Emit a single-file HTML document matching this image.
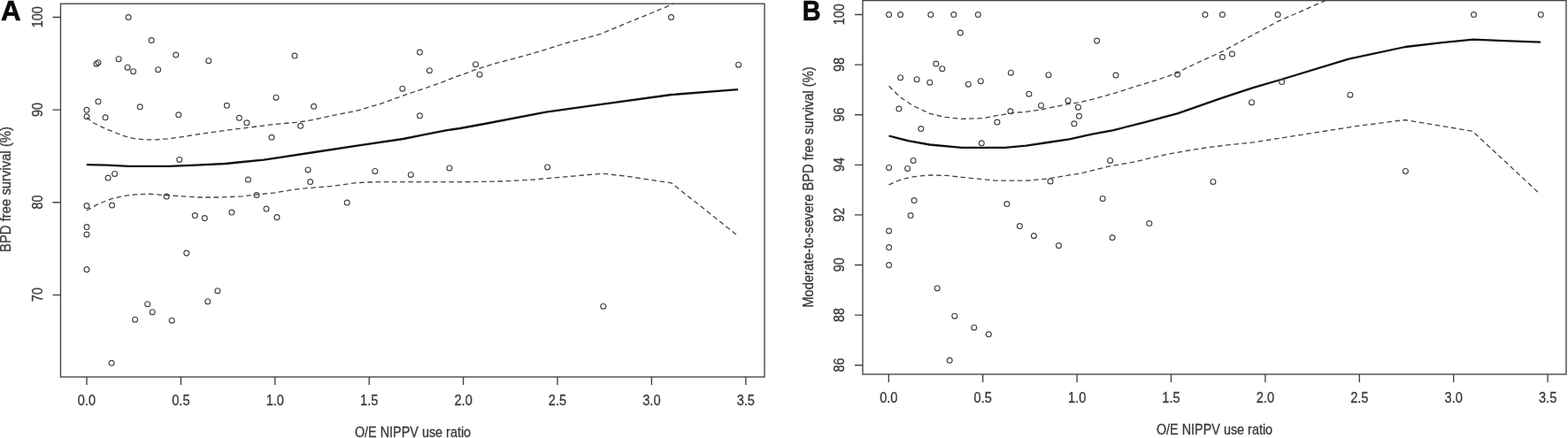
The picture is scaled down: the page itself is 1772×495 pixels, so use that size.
<!DOCTYPE html>
<html lang="en">
<head>
<meta charset="utf-8">
<title>BPD free survival vs O/E NIPPV use ratio</title>
<style>
html,body{margin:0;padding:0;background:#fff;}
body{width:1772px;height:495px;overflow:hidden;}
svg{display:block;font-family:"Liberation Sans",Arial,Helvetica,sans-serif;}
</style>
</head>
<body>
<svg width="1772" height="495" viewBox="0 0 1772 495">
<rect width="1772" height="495" fill="#fff"/>
<g id="panelA">
<rect x="68.5" y="4.2" width="795.5" height="421.8" fill="none" stroke="#424242" stroke-width="1.35"/>
<path d="M98.0 426.0v9.0M204.4 426.0v9.0M310.8 426.0v9.0M417.2 426.0v9.0M523.6 426.0v9.0M630.0 426.0v9.0M736.4 426.0v9.0M842.8 426.0v9.0M68.5 19.5h-9.0M68.5 124.1h-9.0M68.5 228.7h-9.0M68.5 333.3h-9.0" fill="none" stroke="#424242" stroke-width="1.35"/>
<g font-size="16" fill="#3a3a3a" stroke="#3a3a3a" stroke-width="0.3" text-anchor="middle">
<text transform="translate(98.0 458.3) scale(0.914 1)">0.0</text>
<text transform="translate(204.4 458.3) scale(0.914 1)">0.5</text>
<text transform="translate(310.8 458.3) scale(0.914 1)">1.0</text>
<text transform="translate(417.2 458.3) scale(0.914 1)">1.5</text>
<text transform="translate(523.6 458.3) scale(0.914 1)">2.0</text>
<text transform="translate(630.0 458.3) scale(0.914 1)">2.5</text>
<text transform="translate(736.4 458.3) scale(0.914 1)">3.0</text>
<text transform="translate(842.8 458.3) scale(0.914 1)">3.5</text>
<text transform="translate(47.5 19.3) rotate(-90) scale(0.9 1)">100</text>
<text transform="translate(47.5 123.9) rotate(-90) scale(0.9 1)">90</text>
<text transform="translate(47.5 228.5) rotate(-90) scale(0.9 1)">80</text>
<text transform="translate(47.5 333.1) rotate(-90) scale(0.9 1)">70</text>
<text transform="translate(466.5 493.8) scale(0.9 1)">O/E NIPPV use ratio</text>
<text transform="translate(12.0 214.0) rotate(-90) scale(0.929 1)">BPD free survival (%)</text>
</g>
<text transform="translate(0.9 23.3) scale(1 1)" font-size="31.3" font-weight="bold" fill="#0a0a0a" stroke="#0a0a0a" stroke-width="0.6">A</text>
<polyline points="97.9,186.2 121.2,186.7 145.5,187.9 191.5,187.9 220.6,186.6 254.5,185 274,183 298.2,180.6 310,178.8 358.5,171.5 407,164.2 455.5,157 479.7,152.1 503.9,147.3 520,145.0 550,139.5 617,126.7 681.5,117.6 758.8,107.0 834.1,101.2" fill="none" stroke="#111" stroke-width="2.3" stroke-linejoin="round"/>
<polyline points="97.9,132.6 104.2,138.2 116.4,144.2 128.5,149.1 140.6,153.9 152.7,156.8 164.8,157.8 177,157.8 189.1,156.8 201.2,155.4 225.5,151.5 249.7,148.1 264.2,146.2 286,143.5 310,140.5 334.2,138.3 346.4,136.8 358.5,134.4 382.7,129.1 401.6,125.5 416.2,121.4 432.3,116.6 448.5,110.6 464.6,104.9 480.8,99.6 497,93.9 513.1,87.5 529.3,81.8 539,78.1 560,71.6 585.5,65 609.7,58.2 633.9,50.5 640,48.5 660,43.5 678.8,38.3 712.7,24.2 737,14.5 761.2,4.2" fill="none" stroke="#424242" stroke-width="1.3" stroke-dasharray="5.6 3.6"/>
<polyline points="97.9,237.8 111.5,230.3 126,224.7 140.6,221.3 152.7,219.9 169.7,219.2 186.7,220.6 206,221.8 225.5,223 249.7,223 274,221.8 288.5,220.1 310.7,217.8 334.2,213.9 375.5,210.3 402.1,206.7 421.5,205.7 520,205.7 563.6,205 602.4,203 641.2,199.6 665.5,197.5 681.6,196.2 706.7,199 758.8,206.8 834.1,266.7" fill="none" stroke="#424242" stroke-width="1.3" stroke-dasharray="5.6 3.6"/>
<g fill="none" stroke="#424242" stroke-width="1.15">
<circle cx="145.1" cy="19.5" r="2.95"/>
<circle cx="171.2" cy="45.6" r="2.95"/>
<circle cx="198.7" cy="62.1" r="2.95"/>
<circle cx="333.0" cy="63.1" r="2.95"/>
<circle cx="109.0" cy="72.2" r="2.95"/>
<circle cx="111.0" cy="70.7" r="2.95"/>
<circle cx="134.1" cy="66.7" r="2.95"/>
<circle cx="144.1" cy="76.2" r="2.95"/>
<circle cx="150.6" cy="80.7" r="2.95"/>
<circle cx="178.7" cy="78.7" r="2.95"/>
<circle cx="235.8" cy="68.7" r="2.95"/>
<circle cx="111.0" cy="114.8" r="2.95"/>
<circle cx="158.2" cy="120.8" r="2.95"/>
<circle cx="98.0" cy="124.3" r="2.95"/>
<circle cx="98.0" cy="131.8" r="2.95"/>
<circle cx="119.1" cy="132.8" r="2.95"/>
<circle cx="201.8" cy="129.8" r="2.95"/>
<circle cx="256.4" cy="119.3" r="2.95"/>
<circle cx="312.0" cy="110.2" r="2.95"/>
<circle cx="354.6" cy="120.3" r="2.95"/>
<circle cx="270.4" cy="133.3" r="2.95"/>
<circle cx="278.9" cy="138.8" r="2.95"/>
<circle cx="339.6" cy="142.3" r="2.95"/>
<circle cx="307.0" cy="155.3" r="2.95"/>
<circle cx="202.8" cy="180.4" r="2.95"/>
<circle cx="122.1" cy="201" r="2.95"/>
<circle cx="129.6" cy="196.4" r="2.95"/>
<circle cx="280.4" cy="203" r="2.95"/>
<circle cx="348.1" cy="191.9" r="2.95"/>
<circle cx="350.6" cy="205.5" r="2.95"/>
<circle cx="423.8" cy="193.4" r="2.95"/>
<circle cx="188.2" cy="222" r="2.95"/>
<circle cx="290.0" cy="220.5" r="2.95"/>
<circle cx="98.0" cy="232.5" r="2.95"/>
<circle cx="126.6" cy="232" r="2.95"/>
<circle cx="392.2" cy="229" r="2.95"/>
<circle cx="220.3" cy="243.5" r="2.95"/>
<circle cx="231.3" cy="246.6" r="2.95"/>
<circle cx="261.9" cy="240" r="2.95"/>
<circle cx="301.0" cy="236" r="2.95"/>
<circle cx="313.0" cy="245.6" r="2.95"/>
<circle cx="98.0" cy="256.5" r="2.95"/>
<circle cx="98.0" cy="265" r="2.95"/>
<circle cx="98.0" cy="304.6" r="2.95"/>
<circle cx="210.8" cy="286.1" r="2.95"/>
<circle cx="245.9" cy="328.7" r="2.95"/>
<circle cx="234.8" cy="340.7" r="2.95"/>
<circle cx="166.7" cy="343.7" r="2.95"/>
<circle cx="172.2" cy="352.7" r="2.95"/>
<circle cx="152.6" cy="361.2" r="2.95"/>
<circle cx="194.2" cy="362.2" r="2.95"/>
<circle cx="126.1" cy="410.3" r="2.95"/>
<circle cx="474.4" cy="59.1" r="2.95"/>
<circle cx="485.4" cy="79.7" r="2.95"/>
<circle cx="454.8" cy="100.2" r="2.95"/>
<circle cx="537.5" cy="72.7" r="2.95"/>
<circle cx="542.0" cy="84.2" r="2.95"/>
<circle cx="474.4" cy="130.8" r="2.95"/>
<circle cx="758.5" cy="19.5" r="2.95"/>
<circle cx="834.6" cy="73.2" r="2.95"/>
<circle cx="464.3" cy="197.4" r="2.95"/>
<circle cx="507.9" cy="189.9" r="2.95"/>
<circle cx="618.7" cy="188.9" r="2.95"/>
<circle cx="681.8" cy="346.2" r="2.95"/>
</g>
</g>
<g id="panelB">
<rect x="974.95" y="0.6" width="795.0" height="422.4" fill="none" stroke="#424242" stroke-width="1.35"/>
<path d="M1004.3 423.0v9.0M1110.7 423.0v9.0M1217.1 423.0v9.0M1323.5 423.0v9.0M1429.9 423.0v9.0M1536.3 423.0v9.0M1642.7 423.0v9.0M1749.1 423.0v9.0M974.95 16.5h-9.0M974.95 73.1h-9.0M974.95 129.7h-9.0M974.95 186.3h-9.0M974.95 242.9h-9.0M974.95 299.5h-9.0M974.95 356.1h-9.0M974.95 412.7h-9.0" fill="none" stroke="#424242" stroke-width="1.35"/>
<g font-size="16" fill="#3a3a3a" stroke="#3a3a3a" stroke-width="0.3" text-anchor="middle">
<text transform="translate(1004.3 455.3) scale(0.914 1)">0.0</text>
<text transform="translate(1110.7 455.3) scale(0.914 1)">0.5</text>
<text transform="translate(1217.1 455.3) scale(0.914 1)">1.0</text>
<text transform="translate(1323.5 455.3) scale(0.914 1)">1.5</text>
<text transform="translate(1429.9 455.3) scale(0.914 1)">2.0</text>
<text transform="translate(1536.3 455.3) scale(0.914 1)">2.5</text>
<text transform="translate(1642.7 455.3) scale(0.914 1)">3.0</text>
<text transform="translate(1749.1 455.3) scale(0.914 1)">3.5</text>
<text transform="translate(954.0 16.3) rotate(-90) scale(0.9 1)">100</text>
<text transform="translate(954.0 72.9) rotate(-90) scale(0.9 1)">98</text>
<text transform="translate(954.0 129.5) rotate(-90) scale(0.9 1)">96</text>
<text transform="translate(954.0 186.1) rotate(-90) scale(0.9 1)">94</text>
<text transform="translate(954.0 242.7) rotate(-90) scale(0.9 1)">92</text>
<text transform="translate(954.0 299.3) rotate(-90) scale(0.9 1)">90</text>
<text transform="translate(954.0 355.9) rotate(-90) scale(0.9 1)">88</text>
<text transform="translate(954.0 412.5) rotate(-90) scale(0.9 1)">86</text>
<text transform="translate(1372.5 491.2) scale(0.9 1)">O/E NIPPV use ratio</text>
<text transform="translate(918.6 211.5) rotate(-90) scale(0.917 1)">Moderate-to-severe BPD free survival (%)</text>
</g>
<text transform="translate(906.8 23.0) scale(0.93 1)" font-size="31.0" font-weight="bold" fill="#0a0a0a" stroke="#0a0a0a" stroke-width="0.6">B</text>
<polyline points="1004.5,153.5 1026.4,159.1 1050.6,163.5 1087,166.8 1135.5,166.8 1159.7,164.7 1183.9,161 1208.2,157.4 1234.2,151.7 1258.5,147.1 1294.8,137.9 1331.2,128.2 1379.7,111.2 1416.1,99.1 1449.1,89.5 1524.2,66.7 1588.1,53.0 1629.7,48.2 1665,44.6 1700,46.2 1741,47.6" fill="none" stroke="#111" stroke-width="2.3" stroke-linejoin="round"/>
<polyline points="1004.5,97.3 1016.7,109.4 1031.2,119.1 1050.6,128.3 1067.6,132.4 1087,134.4 1111.2,133.6 1125.8,130.7 1145.2,127.6 1159.7,126.4 1176.7,123.9 1196.1,119.8 1208.2,117.4 1217.3,116.1 1234.2,112.4 1258.5,105.6 1282.7,97.9 1307,90.6 1331.2,82.1 1340,77.1 1381.2,58.2 1444.2,24.2 1497.6,0.8" fill="none" stroke="#424242" stroke-width="1.3" stroke-dasharray="5.6 3.6"/>
<polyline points="1004.5,208.8 1016.7,203.5 1031.2,199.8 1050.6,197.9 1070,198.4 1087,200.3 1111.2,202.7 1125.8,204.2 1159.7,204.2 1183.9,202 1208.2,197.9 1220,196.2 1253.9,187.9 1280.6,183.2 1317,174.8 1341.2,170.4 1365.5,166.5 1389.7,163.6 1416.1,160.9 1450,155.6 1532,142.7 1587.8,135.5 1664.1,148.3 1740.6,219.5" fill="none" stroke="#424242" stroke-width="1.3" stroke-dasharray="5.6 3.6"/>
<g fill="none" stroke="#424242" stroke-width="1.15">
<circle cx="1004.6" cy="16.5" r="2.95"/>
<circle cx="1017.6" cy="16.5" r="2.95"/>
<circle cx="1051.8" cy="16.5" r="2.95"/>
<circle cx="1077.8" cy="16.5" r="2.95"/>
<circle cx="1105.3" cy="16.5" r="2.95"/>
<circle cx="1085.3" cy="37.1" r="2.95"/>
<circle cx="1239.6" cy="46.1" r="2.95"/>
<circle cx="1057.8" cy="72.1" r="2.95"/>
<circle cx="1064.8" cy="77.7" r="2.95"/>
<circle cx="1017.6" cy="87.7" r="2.95"/>
<circle cx="1036.1" cy="89.7" r="2.95"/>
<circle cx="1050.8" cy="93.2" r="2.95"/>
<circle cx="1094.3" cy="95.2" r="2.95"/>
<circle cx="1108.3" cy="91.7" r="2.95"/>
<circle cx="1142.4" cy="82.2" r="2.95"/>
<circle cx="1185.0" cy="84.7" r="2.95"/>
<circle cx="1261.0" cy="85.0" r="2.95"/>
<circle cx="1330.6" cy="84.1" r="2.95"/>
<circle cx="1162.9" cy="106.2" r="2.95"/>
<circle cx="1176.5" cy="119.2" r="2.95"/>
<circle cx="1207.0" cy="113.7" r="2.95"/>
<circle cx="1218.5" cy="121.2" r="2.95"/>
<circle cx="1219.5" cy="131.3" r="2.95"/>
<circle cx="1213.9" cy="139.8" r="2.95"/>
<circle cx="1141.9" cy="125.8" r="2.95"/>
<circle cx="1126.9" cy="138.0" r="2.95"/>
<circle cx="1015.9" cy="123.0" r="2.95"/>
<circle cx="1040.8" cy="145.5" r="2.95"/>
<circle cx="1109.3" cy="161.8" r="2.95"/>
<circle cx="1004.6" cy="189.4" r="2.95"/>
<circle cx="1025.6" cy="190.4" r="2.95"/>
<circle cx="1032.1" cy="181.4" r="2.95"/>
<circle cx="1254.6" cy="181.4" r="2.95"/>
<circle cx="1187.0" cy="204.9" r="2.95"/>
<circle cx="1033.1" cy="226.5" r="2.95"/>
<circle cx="1137.9" cy="230.5" r="2.95"/>
<circle cx="1246.1" cy="224.4" r="2.95"/>
<circle cx="1029.1" cy="243.5" r="2.95"/>
<circle cx="1004.6" cy="261" r="2.95"/>
<circle cx="1004.6" cy="279.6" r="2.95"/>
<circle cx="1004.6" cy="299.6" r="2.95"/>
<circle cx="1152.4" cy="255.5" r="2.95"/>
<circle cx="1168.4" cy="266.5" r="2.95"/>
<circle cx="1196.5" cy="277.6" r="2.95"/>
<circle cx="1257.1" cy="268.5" r="2.95"/>
<circle cx="1298.8" cy="252.5" r="2.95"/>
<circle cx="1059.2" cy="325.7" r="2.95"/>
<circle cx="1078.8" cy="357.2" r="2.95"/>
<circle cx="1100.8" cy="370.2" r="2.95"/>
<circle cx="1117.3" cy="377.8" r="2.95"/>
<circle cx="1073.2" cy="407.3" r="2.95"/>
<circle cx="1361.9" cy="16.5" r="2.95"/>
<circle cx="1381.4" cy="16.5" r="2.95"/>
<circle cx="1444.1" cy="16.5" r="2.95"/>
<circle cx="1665.5" cy="16.5" r="2.95"/>
<circle cx="1741.3" cy="16.5" r="2.95"/>
<circle cx="1381.4" cy="64.6" r="2.95"/>
<circle cx="1392.4" cy="61.1" r="2.95"/>
<circle cx="1448.6" cy="92.5" r="2.95"/>
<circle cx="1414.5" cy="115.7" r="2.95"/>
<circle cx="1525.8" cy="107.2" r="2.95"/>
<circle cx="1588.4" cy="193.4" r="2.95"/>
<circle cx="1370.9" cy="205.4" r="2.95"/>
</g>
</g>
</svg>
</body>
</html>
